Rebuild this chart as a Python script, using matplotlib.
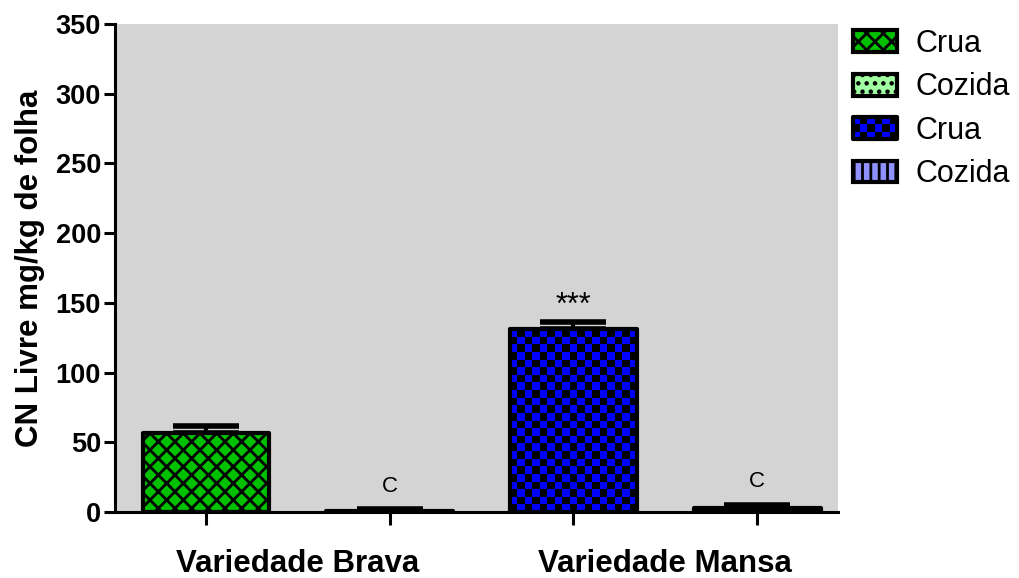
import matplotlib
matplotlib.use('Agg')
import matplotlib.pyplot as plt
import numpy as np
from matplotlib.patches import Rectangle, Patch
from matplotlib.legend_handler import HandlerPatch

# data
groups = ['Variedade Brava', 'Variedade Mansa']
series_labels = ['Crua', 'Cozida', 'Crua', 'Cozida']
values = [57, 1, 131, 3]
errors = [5, 1, 5, 2]
annotations = ['', 'C', '***', 'C']

face_colors = ['#00C000', '#A0FFA0', '#0000FF', '#9090FF']
hatches = ['xx', '..', None, '||']

plt.rcParams['font.family'] = ['Liberation Sans', 'DejaVu Sans']
plt.rcParams['hatch.linewidth'] = 2.0
plt.rcParams['hatch.color'] = 'black'


class CheckerHandler(HandlerPatch):
    # legend handle drawn as a small blue/black checkerboard
    def create_artists(self, legend, orig_handle, xdescent, ydescent,
                       width, height, fontsize, trans):
        artists = [Rectangle((-xdescent, -ydescent), width, height, facecolor='black',
                             edgecolor='none', transform=trans)]
        nx, ny = 6, 3
        cw, ch = width / nx, height / ny
        for i in range(nx):
            for j in range(ny):
                if (i + j) % 2 == 0:
                    artists.append(Rectangle((-xdescent + i * cw, -ydescent + j * ch), cw, ch,
                                             facecolor='#0000FF', edgecolor='none', transform=trans))
        artists.append(Rectangle((-xdescent, -ydescent), width, height, facecolor='none',
                                 edgecolor='black', lw=3, joinstyle='round', transform=trans))
        return artists


fig = plt.figure(figsize=(10.2, 5.78), dpi=100)
ax = fig.add_axes([0.1127, 0.1142, 0.7089, 0.8443])
ax.set_facecolor('#D4D4D4')

x = np.arange(len(values))
width = 0.69

bars = []
for i in range(len(values)):
    b = ax.bar(x[i], values[i], width, yerr=[[0], [errors[i]]],
               color='none' if hatches[i] is None else face_colors[i],
               edgecolor='black', linewidth=3, hatch=hatches[i], zorder=3,
               error_kw=dict(ecolor='black', elinewidth=3, capsize=24, capthick=4,
                             solid_capstyle='round', zorder=2))
    for p in b.patches:
        p.set_joinstyle('round')
    bars.append(b.patches[0])

# checkerboard fill for the blue bar, clipped to the bar
p = bars[2]
ncols = 17
nrows = max(1, int(round(p.get_height() / 5.4)))
board = (np.indices((nrows, ncols)).sum(axis=0) % 2)
cmap = matplotlib.colors.ListedColormap(['black', '#0000FF'])
im = ax.imshow(board, cmap=cmap, extent=(p.get_x(), p.get_x() + p.get_width(), 0, p.get_height()),
               aspect='auto', interpolation='nearest', zorder=2.5, origin='lower')
im.set_clip_path(p)

for i in range(len(values)):
    if annotations[i] == 'C':
        ax.text(x[i], values[i] + errors[i] + 9, annotations[i], ha='center', va='bottom', fontsize=16)
    elif annotations[i]:
        ax.text(x[i], values[i] + errors[i] + 1, annotations[i], ha='center', va='bottom', fontsize=22)

ax.set_xlim(-0.495, 3.44)
ax.set_ylim(0, 350)
ax.set_yticks(np.arange(0, 351, 50))
ax.set_ylabel('CN Livre mg/kg de folha', fontsize=22.5, fontweight='bold', labelpad=8)

ax.set_xticks(x, minor=True)
ax.set_xticks([0.5, 2.5])
ax.set_xticklabels(groups, fontsize=22.5, fontweight='bold')
ax.tick_params(axis='x', which='major', length=0, pad=27)
ax.tick_params(axis='x', which='minor', length=9, width=2.2, direction='out')
ax.tick_params(axis='y', length=8, width=2.2, labelsize=19.5, pad=2)
for lbl in ax.get_yticklabels():
    lbl.set_fontweight('bold')

for side in ['top', 'right']:
    ax.spines[side].set_visible(False)
for side in ['left', 'bottom']:
    ax.spines[side].set_linewidth(2.2)

handles = []
for i in range(len(values)):
    if hatches[i] is None:
        handles.append(Patch(facecolor='#0000FF', edgecolor='black'))
    else:
        h = Patch(facecolor=face_colors[i], edgecolor='black', hatch=hatches[i], lw=3)
        h.set_joinstyle('round')
        handles.append(h)

leg = fig.legend(handles, series_labels, loc='upper left', bbox_to_anchor=(0.836, 0.950),
                 frameon=False, fontsize=22, handlelength=1.45, handleheight=0.72,
                 handletextpad=0.62, labelspacing=0.44, borderpad=0, borderaxespad=0,
                 handler_map={handles[2]: CheckerHandler()})

fig.savefig('out.png', dpi=100)
